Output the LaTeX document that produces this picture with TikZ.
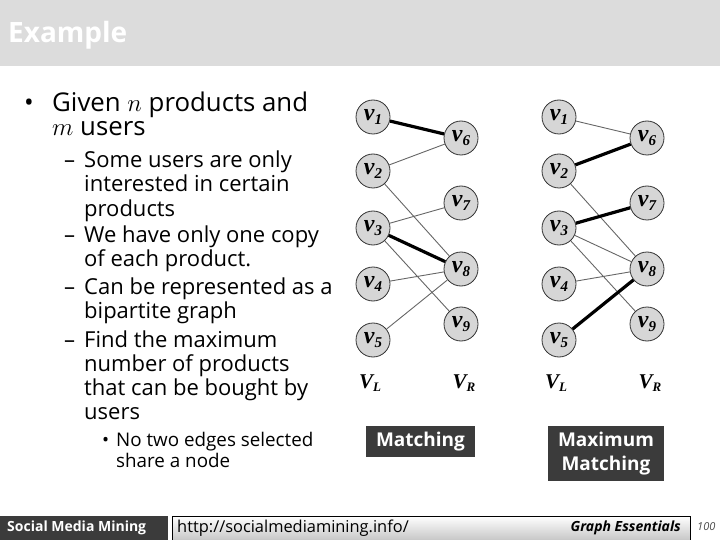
\documentclass[tikz,border=0pt]{standalone}
\usepackage{fontspec}
\setmainfont{Open Sans}
\newfontfamily\timesfont{Liberation Serif}
\definecolor{band}{HTML}{DCDCDC}
\definecolor{slate}{HTML}{3B3B3B}
\newcommand\vlab[1]{v\raisebox{-4.5pt}{\fontsize{15}{15}\selectfont#1}}
\newcommand\setlab[1]{V\raisebox{-3pt}{\fontsize{13}{13}\selectfont#1}}

\begin{document}
\begin{tikzpicture}[x=1pt, y=-1pt,
  vtx/.style={circle, draw=black!80, fill=black!16, line width=0.8pt, minimum size=34pt, inner sep=0pt,
    font=\timesfont\bfseries\itshape\fontsize{24}{24}\selectfont},
  sidelab/.style={inner sep=0pt, font=\timesfont\bfseries\itshape\fontsize{21}{21}\selectfont},
  edge/.style={draw=black!60, line width=0.9pt},
  match/.style={draw=black, line width=3.2pt},
  tag/.style={fill=slate, text=white, inner sep=2pt, align=center,
    font=\bfseries\fontsize{19}{24}\selectfont},
  lone/.style={anchor=base west, inner sep=0pt, font=\fontsize{25.8}{25.8}\selectfont},
  ltwo/.style={anchor=base west, inner sep=0pt, font=\fontsize{22}{22}\selectfont},
  lthree/.style={anchor=base west, inner sep=0pt, font=\fontsize{18.8}{18.8}\selectfont}]
\useasboundingbox (0,0) rectangle (720,540);
\fill[band] (0,0) rectangle (720,66);
\node[anchor=base west, inner sep=0pt, text=white, font=\bfseries\fontsize{28}{28}\selectfont] (title) at (8,43) {Example};

\node[lone] (dot1) at (24,112) {\textbullet};
\foreach \y/\t in {112/{Given $n$ products and}, 136/{$m$ users}}
  \node[lone] (a\y) at (52,\y) {\t};
\foreach \y in {168,242,294,347}
  \node[ltwo] (dash\y) at (64,\y) {--};
\foreach \y/\t in {168/Some users are only, 192/interested in certain, 216/products,
    242/We have only one copy, 266/of each product., 294/Can be represented as a,
    318/bipartite graph, 347/Find the maximum, 371/number of products,
    395/that can be bought by, 419/users}
  \node[ltwo] (b\y) at (84,\y) {\t};
\node[lthree] (dot3) at (102,446) {\textbullet};
\foreach \y/\t in {446/No two edges selected, 467/share a node}
  \node[lthree] (c\y) at (116,\y) {\t};

\foreach \g/\dx in {m/0, x/186} {
  \foreach \i/\y in {1/117, 2/171, 3/228, 4/284, 5/340}
    \node[vtx] (\g\i) at (373+\dx,\y) {\vlab{\i}};
  \foreach \i/\y in {6/138, 7/203, 8/269, 9/324}
    \node[vtx] (\g\i) at (461+\dx,\y) {\vlab{\i}};
  \node[sidelab] (\g L) at (370+\dx,383) {\setlab{L}};
  \node[sidelab] (\g R) at (464+\dx,383) {\setlab{R}};
  \draw[edge] (\g2) -- (\g8) (\g3) -- (\g9) (\g4) -- (\g8);
}
\draw[edge] (m2) -- (m6) (m3) -- (m7) (m5) -- (m8);
\draw[match] (m1) -- (m6) (m3) -- (m8);
\draw[edge] (x1) -- (x6) (x3) -- (x8);
\draw[match] (x2) -- (x6) (x3) -- (x7) (x5) -- (x8);

\node[tag, minimum width=109pt, minimum height=31pt] (tagm) at (420.5,441.5) {Matching};
\node[tag, minimum width=116pt, minimum height=55pt] (tagx) at (606,453.5) {Maximum\\Matching};

\fill[slate] (0,516) rectangle (168,540);
\node[anchor=west, inner sep=0pt, text=white, font=\bfseries\fontsize{14}{14}\selectfont] (foot) at (7,528) {Social Media Mining};
\shadedraw[top color=white, bottom color=black!22, draw=black, line width=0.8pt] (172,516) rectangle (690,540);
\node[anchor=west, inner sep=0pt, font=\fontsize{16.4}{16.4}\selectfont] (url) at (177,528) {http://socialmediamining.info/};
\node[anchor=east, inner sep=0pt, font=\bfseries\itshape\fontsize{14}{14}\selectfont] (chap) at (681,528) {Graph Essentials};
\node[anchor=west, inner sep=0pt, text=black!70, font=\itshape\fontsize{11}{11}\selectfont] (page) at (697,527) {100};
\end{tikzpicture}
\end{document}
